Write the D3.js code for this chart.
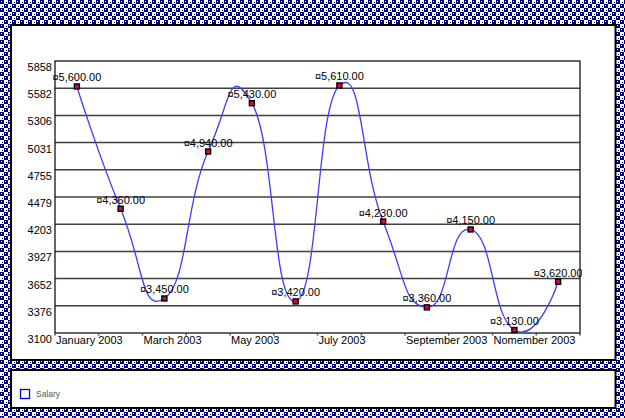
<!DOCTYPE html>
<html><head><meta charset="utf-8">
<script src="https://cdn.jsdelivr.net/npm/d3@7"></script>
<style>body{margin:0;background:#fff}svg{display:block}</style>
</head><body>
<svg id="c" width="625" height="418"></svg>
<script>
const months = ["Jan","Feb","Mar","Apr","May","Jun","Jul","Aug","Sep","Oct","Nov","Dec"];
const salary = [5600, 4360, 3450, 4940, 5430, 3420, 5610, 4230, 3360, 4150, 3130, 3620];
const yTicks = [3100, 3376, 3652, 3927, 4203, 4479, 4755, 5031, 5306, 5582, 5858];
const xTickLabels = ["January 2003", "", "March 2003", "", "May 2003", "", "July 2003", "", "September 2003", "", "Nomember 2003", "", ""];
const seriesName = "Salary";

const svg = d3.select("#c");
const defs = svg.append("defs");
const pat = defs.append("pattern").attr("id","chk").attr("width",8).attr("height",8).attr("patternUnits","userSpaceOnUse");
pat.append("rect").attr("width",8).attr("height",8).attr("fill","#fff");
pat.append("rect").attr("x",0).attr("y",0).attr("width",4).attr("height",4).attr("fill","#000080");
pat.append("rect").attr("x",4).attr("y",4).attr("width",4).attr("height",4).attr("fill","#000080");
pat.append("rect").attr("x",1).attr("y",1).attr("width",1).attr("height",1).attr("fill","#fff");
pat.append("rect").attr("x",5).attr("y",5).attr("width",1).attr("height",1).attr("fill","#fff");
pat.append("rect").attr("x",6).attr("y",2).attr("width",1).attr("height",1).attr("fill","#000080");
pat.append("rect").attr("x",2).attr("y",6).attr("width",1).attr("height",1).attr("fill","#000080");

svg.append("rect").attr("width",625).attr("height",418).attr("fill","url(#chk)");
svg.append("rect").attr("x",11).attr("y",25).attr("width",604.5).attr("height",335)
  .attr("fill","#fff").attr("stroke","#000").attr("stroke-width",2);
svg.append("rect").attr("x",11).attr("y",370).attr("width",604.5).attr("height",38)
  .attr("fill","#fff").attr("stroke","#000").attr("stroke-width",2);

const L=55, R=580, T=61, B=333;
const x = d3.scaleLinear().domain([0,12]).range([L,R]);
const y = d3.scaleLinear().domain([yTicks[0], yTicks[yTicks.length-1]]).range([B,T]);
const font = "'Liberation Sans', Arial, sans-serif";

// gridlines
svg.append("g").selectAll("line").data(yTicks.slice(1,-1)).join("line")
  .attr("x1",L).attr("x2",R).attr("y1",d=>y(d)).attr("y2",d=>y(d))
  .attr("stroke","#404040").attr("stroke-width",1.6);

// frame
svg.append("rect").attr("x",L).attr("y",T).attr("width",R-L).attr("height",B-T)
  .attr("fill","none").attr("stroke","#000").attr("stroke-width",1.2);

// x ticks
svg.append("g").selectAll("line").data(d3.range(13)).join("line")
  .attr("x1",d=>x(d)).attr("x2",d=>x(d)).attr("y1",B).attr("y2",B+2.5)
  .attr("stroke","#555").attr("stroke-width",1.5);
svg.append("g").selectAll("text").data(xTickLabels.map((t,i)=>({t,i})).filter(d=>d.t)).join("text")
  .attr("x",d=>x(d.i)+1).attr("y",B+11).attr("font-family",font).attr("font-size",11)
  .attr("fill","#000").text(d=>d.t);

// y labels
svg.append("g").selectAll("text").data(yTicks).join("text")
  .attr("x",L-3).attr("y",d=>y(d)+10).attr("text-anchor","end")
  .attr("font-family",font).attr("font-size",11).attr("fill","#000").text(d=>d);

// line
const pts = salary.map((v,i)=>[x(i+0.5), y(v)]);
svg.append("path").attr("d", d3.line().curve(d3.curveCardinal.tension(-0.6))(pts))
  .attr("fill","none").attr("stroke","#3c3cff").attr("stroke-width",1.3);

// markers
svg.append("g").selectAll("rect").data(pts).join("rect")
  .attr("x",d=>d[0]-2.5).attr("y",d=>d[1]-2.5).attr("width",5).attr("height",5)
  .attr("fill","#e0003c").attr("stroke","#000").attr("stroke-width",1.4);

// data labels
defs.append("clipPath").attr("id","lc").append("rect").attr("x",0).attr("y",0).attr("width",582).attr("height",418);
const fmt = d3.format(",.2f");
svg.append("g").attr("clip-path","url(#lc)").selectAll("text").data(salary).join("text")
  .attr("x",(d,i)=>x(i+0.5)).attr("y",d=>y(d)-5).attr("text-anchor","middle")
  .attr("font-family",font).attr("font-size",11).attr("fill","#000")
  .text(d=>"¤"+fmt(d));

// legend
svg.append("rect").attr("x",20.5).attr("y",389.5).attr("width",9).attr("height",9)
  .attr("fill","#fff").attr("stroke","#0000ff").attr("stroke-width",1.3);
svg.append("text").attr("x",36).attr("y",397).attr("font-family",font).attr("font-size",8.5)
  .attr("fill","#555").text(seriesName);
</script>
</body></html>
